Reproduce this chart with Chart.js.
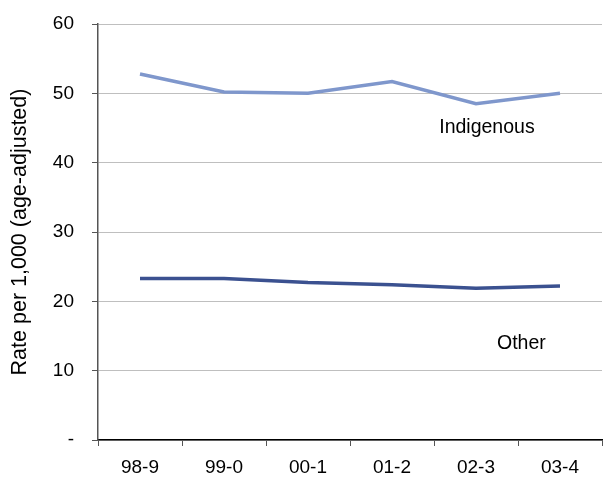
<!DOCTYPE html>
<html>
<head>
<meta charset="utf-8">
<script src="https://cdn.jsdelivr.net/npm/chart.js@4/dist/chart.umd.min.js"></script>
<style>
  html, body { margin: 0; padding: 0; background: #fff; }
  #wrap { width: 603px; height: 477px; }
</style>
</head>
<body>
<div id="wrap"><canvas id="chart" width="603" height="477"></canvas></div>
<script>
// data
const years = ['98-9', '99-0', '00-1', '01-2', '02-3', '03-4']
const indigenous = [52.8, 50.2, 50.0, 51.7, 48.5, 50.0]
const other = [23.3, 23.3, 22.7, 22.4, 21.9, 22.2]

// series name labels, placed in data units (category index, value)
const seriesLabels = [
  { text: 'Indigenous', at: 4.13, value: 45.0 },
  { text: 'Other', at: 4.54, value: 13.9 }
]

const FONT = 'Liberation Sans, Arial, sans-serif'

// draws the series names inside the plot
const labelPlugin = {
  id: 'seriesLabels',
  afterDatasetsDraw(chart) {
    const { ctx, scales } = chart
    ctx.save()
    ctx.font = '19.5px ' + FONT
    ctx.fillStyle = '#000'
    ctx.textAlign = 'center'
    ctx.textBaseline = 'middle'
    seriesLabels.forEach((l) => {
      const x0 = scales.x.getPixelForValue(Math.floor(l.at))
      const x1 = scales.x.getPixelForValue(Math.floor(l.at) + 1)
      const x = x0 + (x1 - x0) * (l.at - Math.floor(l.at))
      ctx.fillText(l.text, x, scales.y.getPixelForValue(l.value))
    })
    ctx.restore()
  }
}

new Chart(document.getElementById('chart'), {
  type: 'line',
  data: {
    labels: years,
    datasets: [
      {
        label: 'Indigenous',
        data: indigenous,
        borderColor: '#7f97cc',
        borderWidth: 3.5,
        pointRadius: 0,
        tension: 0
      },
      {
        label: 'Other',
        data: other,
        borderColor: '#3b5190',
        borderWidth: 3.5,
        pointRadius: 0,
        tension: 0
      }
    ]
  },
  options: {
    responsive: false,
    animation: false,
    layout: { padding: { top: 24, right: 1, left: 0, bottom: 0 } },
    plugins: {
      legend: { display: false },
      tooltip: { enabled: false }
    },
    scales: {
      x: {
        offset: true,
        grid: {
          offset: true,
          drawOnChartArea: false,
          drawTicks: true,
          tickLength: 6,
          tickColor: '#555'
        },
        border: { display: true, color: '#000', width: 1.5 },
        ticks: {
          color: '#000',
          font: { family: FONT, size: 19 },
          padding: 10,
          maxRotation: 0
        },
        afterFit(scale) { scale.height = 37 }
      },
      y: {
        min: 0,
        max: 60,
        ticks: {
          stepSize: 10,
          color: '#000',
          font: { family: FONT, size: 19 },
          padding: 18,
          callback: v => (v === 0 ? '-' : v)
        },
        grid: {
          color: '#bfbfbf',
          lineWidth: 1,
          tickLength: 6,
          tickColor: '#555'
        },
        border: { display: true, color: '#555', width: 1.5 },
        title: {
          display: true,
          text: 'Rate per 1,000 (age-adjusted)',
          color: '#000',
          font: { family: FONT, size: 21.5 },
          padding: { top: 7, bottom: 4 }
        },
        afterFit(scale) {
          scale.width = 98
          scale.paddingTop = 0
          scale.paddingBottom = 0
        }
      }
    }
  },
  plugins: [labelPlugin]
})
</script>
</body>
</html>
